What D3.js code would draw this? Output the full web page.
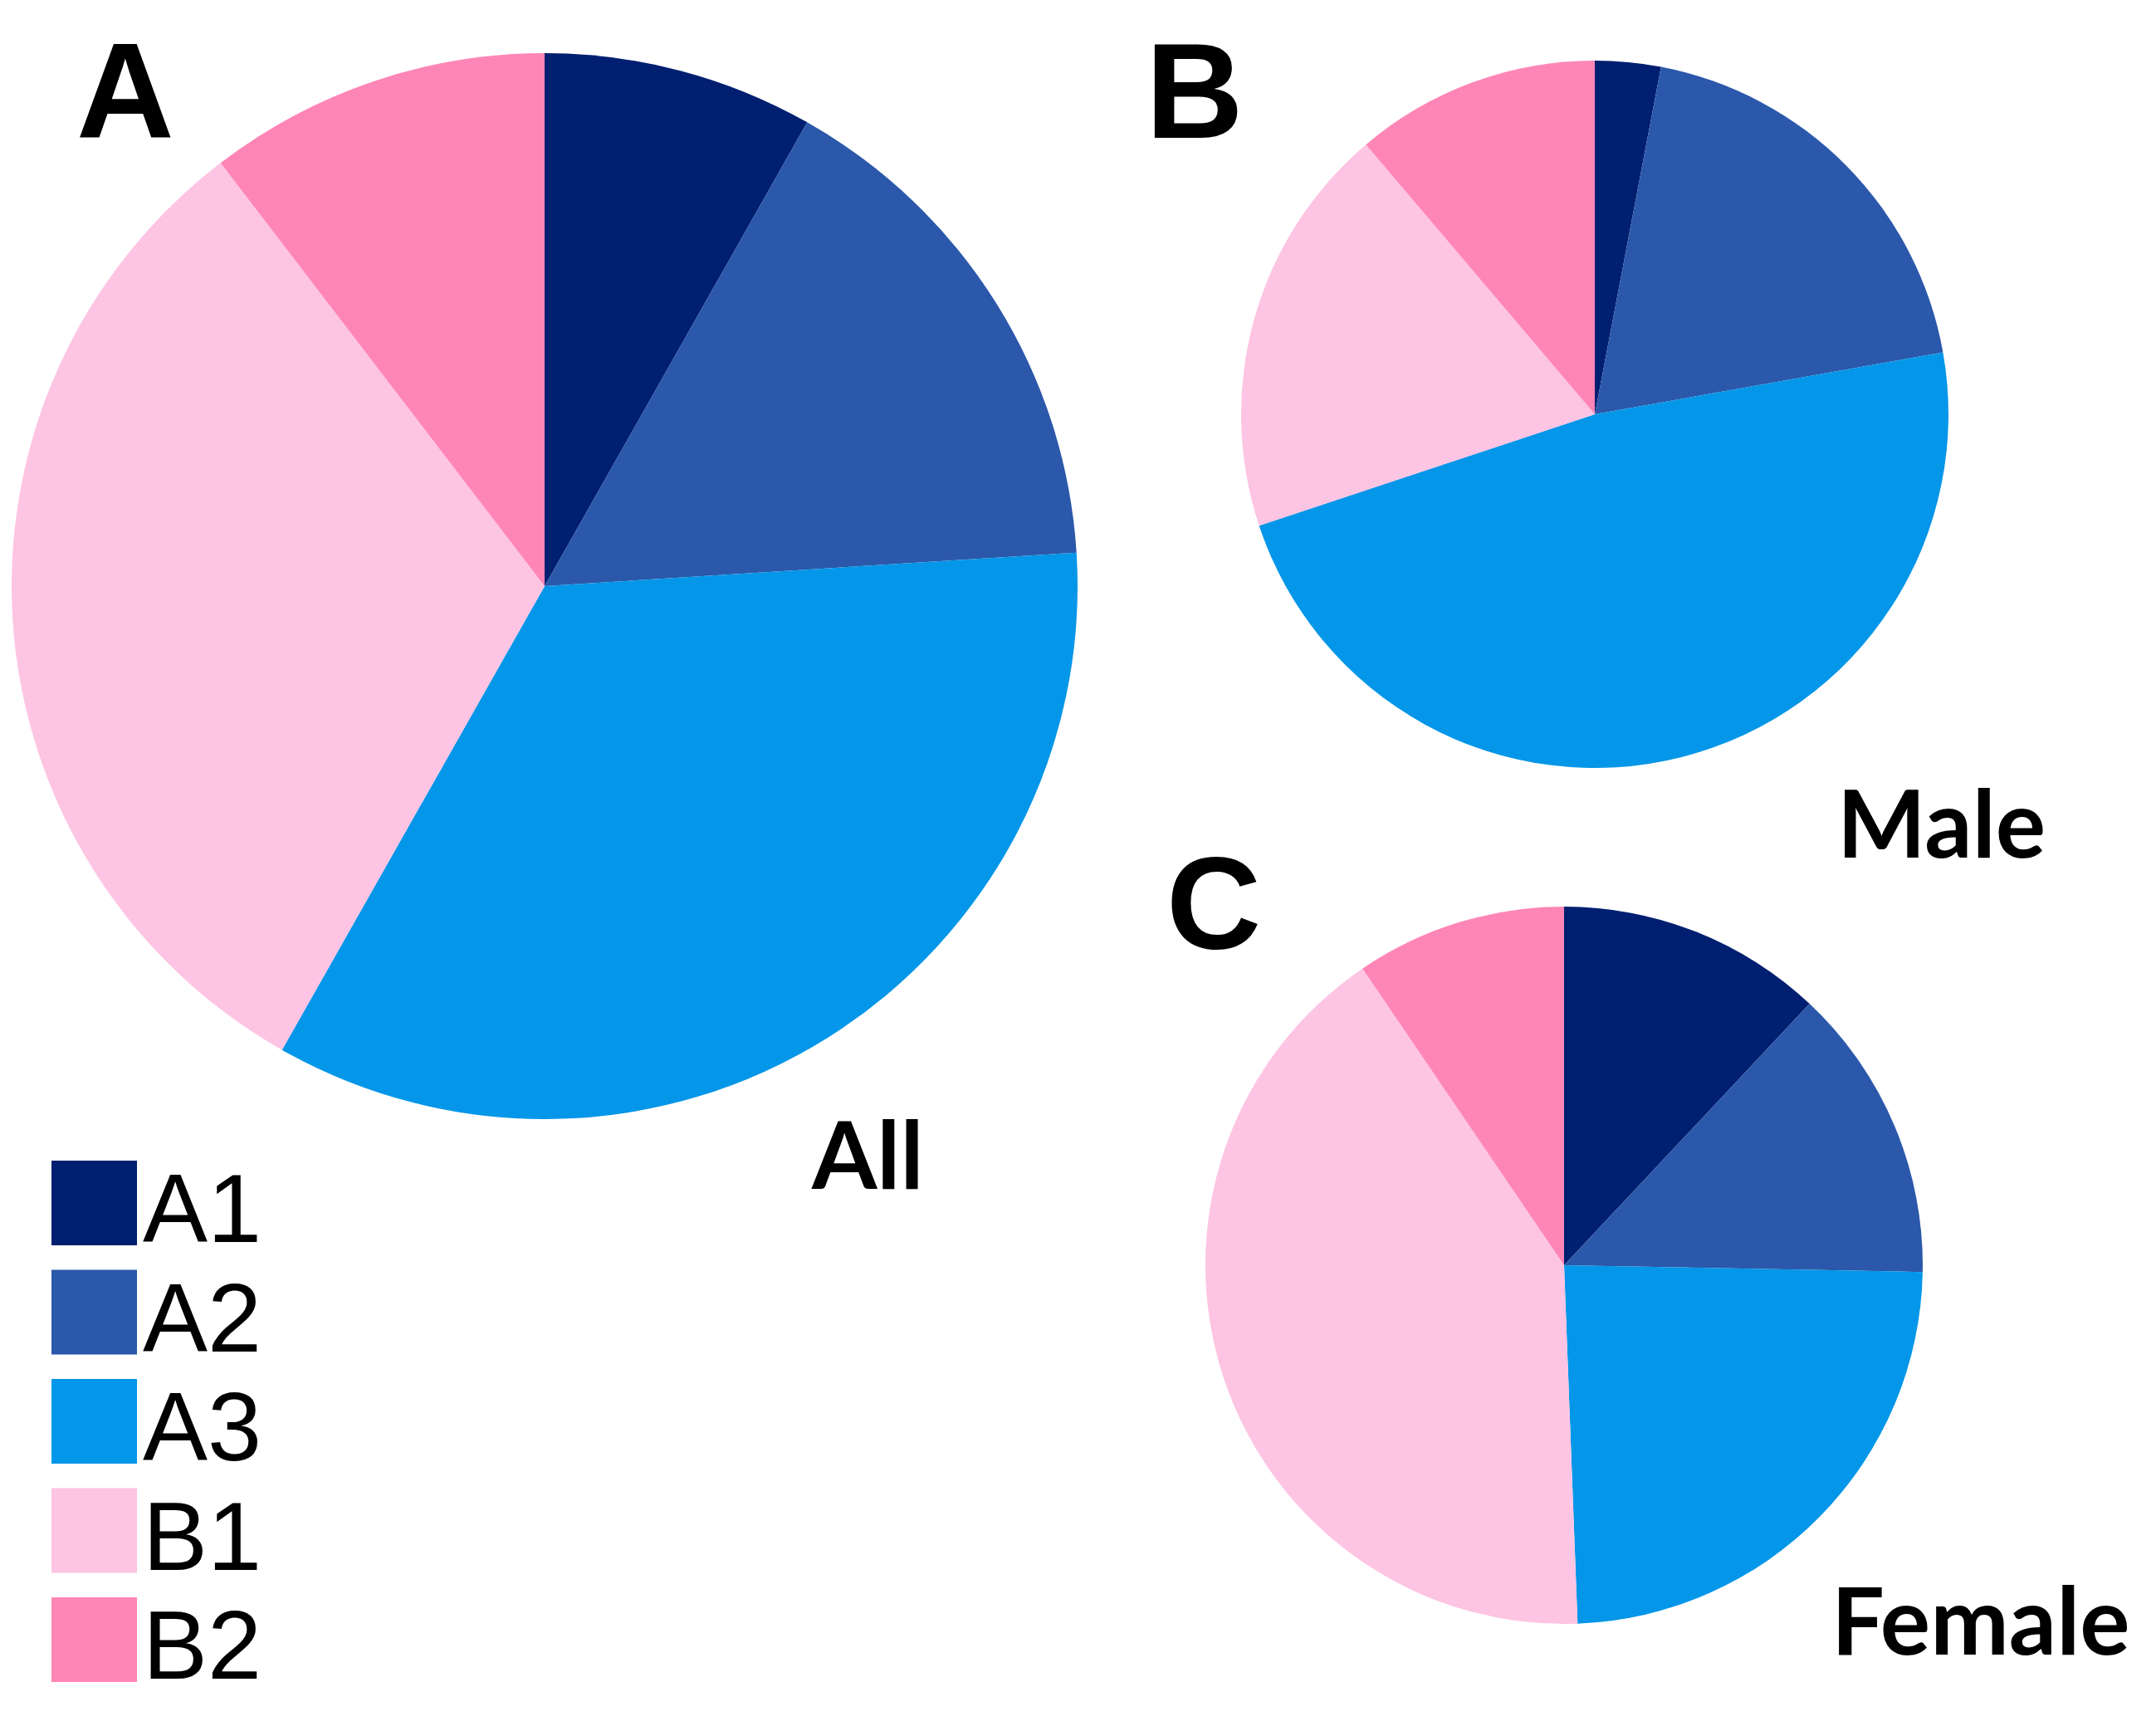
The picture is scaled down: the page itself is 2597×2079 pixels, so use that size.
<!DOCTYPE html>
<html>
<head>
<meta charset="utf-8">
<script src="https://cdn.jsdelivr.net/npm/d3@7"></script>
<style>
  body { margin: 0; background: #fff; }
</style>
</head>
<body>
<div id="app"></div>
<script>
const WIDTH = 2597;
const HEIGHT = 2079;

// data (percent of each group)
const categories = ['A1', 'A2', 'A3', 'B1', 'B2'];
const allValues = [8.2, 15.8, 34.2, 31.4, 10.4];
const maleValues = [3.0, 19.2, 47.7, 18.9, 11.2];
const femaleValues = [12.0, 13.3, 24.1, 41.1, 9.5];
const groupNames = ['All', 'Male', 'Female'];
const panelLetters = ['A', 'B', 'C'];

const colors = ['#001f70', '#2b58aa', '#0496e8', '#fdc4e3', '#fe86b6'];

const svg = d3.select('#app')
  .append('svg')
  .attr('width', WIDTH)
  .attr('height', HEIGHT)
  .style('font-family', '"Liberation Sans", Arial, sans-serif');

const color = d3.scaleOrdinal().domain(categories).range(colors);

// one entry per pie: centre, radius, letter and name positions
const panels = [
  { values: allValues, cx: 656, cy: 706, r: 642,
    letter: { x: 92, y: 166, size: 163 }, name: { x: 978, y: 1432 } },
  { values: maleValues, cx: 1921, cy: 499, r: 426,
    letter: { x: 1380, y: 166, size: 163 }, name: { x: 2213, y: 1033 } },
  { values: femaleValues, cx: 1884, cy: 1524, r: 432,
    letter: { x: 1405, y: 1142, size: 158 }, name: { x: 2206, y: 1993 } }
];

const pie = d3.pie().sort(null).value(d => d.value);

panels.forEach((p, k) => {
  const arc = d3.arc().innerRadius(0).outerRadius(p.r);
  const data = categories.map((c, i) => ({ cat: c, value: p.values[i] }));

  const g = svg.append('g')
    .attr('transform', `translate(${p.cx},${p.cy})`);

  g.selectAll('path')
    .data(pie(data))
    .enter()
    .append('path')
    .attr('d', arc)
    .style('fill', d => color(d.data.cat));

  svg.append('text')
    .attr('x', p.letter.x)
    .attr('y', p.letter.y)
    .attr('font-size', p.letter.size + 'px')
    .attr('font-weight', 'bold')
    .text(panelLetters[k]);

  svg.append('text')
    .attr('x', p.name.x)
    .attr('y', p.name.y)
    .attr('font-family', 'Lato, sans-serif')
    .attr('font-weight', 'bold')
    .attr('font-size', '113px')
    .text(groupNames[k]);
});

// legend
const legendTop = 1398;
const rowStep = 131.5;

const legend = svg.selectAll('g.legend')
  .data(categories)
  .enter()
  .append('g')
  .attr('class', 'legend')
  .attr('transform', (d, i) => `translate(62,${legendTop + i * rowStep})`);

legend.append('rect')
  .attr('width', 103)
  .attr('height', 102)
  .style('fill', d => color(d));

legend.append('text')
  .attr('x', 110)
  .attr('y', 98)
  .attr('font-size', '117px')
  .text(d => d);
</script>
</body>
</html>
